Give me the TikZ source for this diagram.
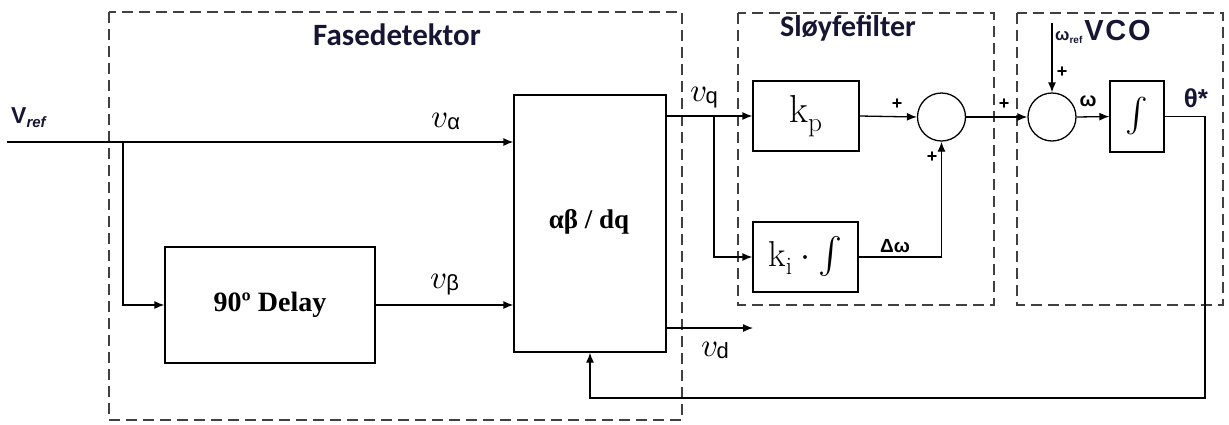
\documentclass[tikz,border=0pt]{standalone}
\usepackage{fontspec}
\usepackage{unicode-math}
\setmathfont{Latin Modern Math}
\usetikzlibrary{arrows.meta}
\newfontfamily\sansf{Liberation Sans}
\newfontfamily\sansfls{Liberation Sans}[LetterSpace=6]
\newfontfamily\calf{Carlito}
\newfontfamily\seriff{Liberation Serif}
\definecolor{navy}{RGB}{22,22,52}
\newcommand\fsz[1]{\fontsize{#1}{#1}\selectfont}
\newcommand\vsig[1]{{\fsz{33}$v$}\kern-1pt\raisebox{-2pt}{\sansf\fsz{22}#1}}
\begin{document}
\begin{tikzpicture}[x=1pt,y=-1pt,
  blk/.style={draw, line width=1.3pt, inner sep=0pt},
  sumc/.style={draw, circle, line width=1.3pt, minimum size=48pt, inner sep=0pt},
  grp/.style={draw, dash pattern=on 11pt off 6pt, line width=1.5pt, black!75},
  conn/.style={line width=1.3pt, -{Latex[length=10pt,width=8pt]}},
  wire/.style={line width=1.3pt},
  lbl/.style={inner sep=0pt},
  plus/.style={inner sep=0pt, font=\sansf\bfseries\fsz{18}},
  bsans/.style={inner sep=0pt, font=\sansf\bfseries}
]
\useasboundingbox (0,0) rectangle (1229,424);
% group frames
\draw[grp] (109,12) rectangle (682,420);
\draw[grp] (738,13) rectangle (994,305);
\draw[grp] (1017,13) rectangle (1223,305);
% titles
\node[lbl, anchor=base, text=navy, font=\calf\bfseries\fsz{31}] (tfd) at (397,45) {Fasedetektor};
\node[lbl, anchor=base, text=navy, font=\calf\bfseries\fsz{30}] (tsf) at (848,36) {Sløyfefilter};
\node[lbl, anchor=base west, text=navy, font=\sansf\bfseries] (tvco) at (1055,40)
  {{\fsz{17}ω}\raisebox{-3pt}{\fsz{10}ref}\kern2pt{\sansfls\bfseries\fsz{29}VCO}};
% blocks
\node[blk, minimum width=210pt, minimum height=116pt, font=\seriff\bfseries\fsz{28}] (delay) at (270,305) {90º Delay};
\node[blk, minimum width=152pt, minimum height=257pt] (abdq) at (590,223.5) {};
\node[lbl, font=\seriff\bfseries\fsz{27}] (abt) at (589,222) {αβ / dq};
\node[blk, minimum width=106pt, minimum height=70pt] (kp) at (806,116) {\fsz{39}$\mathrm{k}_{\mathrm{p}}$};
\node[blk, minimum width=105pt, minimum height=70pt] (ki) at (805.5,257) {\fsz{36}$\mathrm{k}_{\mathrm{i}}\cdot\int$};
\node[sumc] (s1) at (941.5,117) {};
\node[sumc] (s2) at (1052,117) {};
\node[blk, minimum width=54pt, minimum height=71pt] (intb) at (1137,116.5) {\fsz{34}$\int$};
% coordinates
\coordinate (vin) at (7,142);
\coordinate (br1) at (123,142);
\coordinate (br2) at (714,116);
\coordinate (vdst) at (666,328);
\coordinate (vdend) at (753,328);
\coordinate (wref) at (1052,23);
\coordinate (fb) at (1205,398);
% connectors
\draw[conn] (vin) -- (vin -| abdq.west);
\draw[conn] (br1) |- (delay.west);
\draw[conn] (delay.east) -- (delay.east -| abdq.west);
\draw[conn] (abdq.east |- kp.west) -- (kp.west);
\draw[conn] (br2) |- (ki.west);
\draw[conn] (vdst) -- (vdend);
\draw[conn] (kp.east) -- (s1.west);
\draw[conn] (ki.east) -| (s1.south);
\draw[conn] (s1.east) -- (s2.west);
\draw[conn] (wref) -- (s2.north);
\draw[conn] (s2.east) -- (intb.west);
\draw[conn] (intb.east) -| (fb) -| (abdq.south);
% labels
\node[lbl, anchor=base west, text=navy, font=\sansf\bfseries\fsz{23}] (vref) at (11,123)
  {V\raisebox{-4pt}{\fsz{15}\itshape ref}};
\node[lbl] (la) at (446,121) {\vsig{α}};
\node[lbl] (lb) at (445,284) {\vsig{β}};
\node[lbl] (lq) at (704,97) {\vsig{q}};
\node[lbl] (ld) at (715,350) {\vsig{d}};
\node[bsans, font=\sansf\bfseries\fsz{19}] (dw) at (895,246) {Δω};
\node[bsans, font=\sansf\bfseries\fsz{20}] (w) at (1088,101) {ω};
\node[bsans, text=navy, font=\sansf\bfseries\fsz{26}] (th) at (1196,98) {θ*};
\node[plus] (p1) at (897,104) {+};
\node[plus] (p2) at (932,157) {+};
\node[plus] (p3) at (1004,104) {+};
\node[plus] (p4) at (1062,72) {+};
\end{tikzpicture}
\end{document}
